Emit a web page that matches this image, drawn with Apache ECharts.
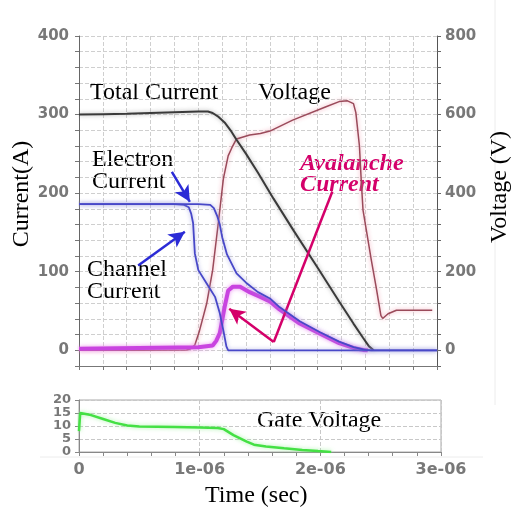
<!DOCTYPE html>
<html>
<head>
<meta charset="utf-8">
<script src="https://cdn.jsdelivr.net/npm/echarts@6/dist/echarts.min.js"></script>
<style>
  html, body { margin: 0; padding: 0; background: #fff; }
  #chart { width: 511px; height: 513px; }
</style>
</head>
<body>
<div id="chart"></div>
<script>
// Switching transient; time is given in microseconds, labelled as "Ne-06" seconds.
const totalCurrent = [
  [0, 300], [0.2, 300.5], [0.4, 301], [0.6, 302], [0.8, 303], [1.0, 304], [1.08, 304],
  [1.12, 302], [1.17, 297], [1.22, 290], [1.27, 280], [1.32, 268], [1.4, 250], [1.5, 226],
  [1.63, 193], [1.8, 152], [2.0, 105], [2.18, 62], [2.3, 34], [2.38, 16], [2.43, 5], [2.47, 0]
];
const voltage = [
  [0, 0], [0.5, 0], [0.9, 1], [0.93, 3], [0.97, 13], [1.01, 50], [1.07, 119], [1.12, 204],
  [1.17, 331], [1.21, 437], [1.25, 495], [1.28, 515], [1.32, 538], [1.43, 548], [1.52, 552],
  [1.6, 558], [1.79, 586], [2.07, 620], [2.18, 633], [2.25, 635], [2.3, 628], [2.32, 605],
  [2.35, 520], [2.365, 433], [2.38, 357], [2.45, 229], [2.49, 161], [2.53, 88], [2.545, 81],
  [2.59, 93], [2.66, 102], [2.96, 102]
];
const electronCurrent = [
  [0, 186], [0.5, 186], [1.0, 186], [1.1, 185], [1.13, 181], [1.16, 170], [1.18, 160],
  [1.2, 144], [1.24, 122], [1.32, 98], [1.4, 86], [1.5, 74], [1.6, 66], [1.68, 55],
  [1.85, 37], [2.02, 23], [2.18, 11], [2.3, 4], [2.4, 0.5], [2.45, 0], [3.0, 0]
];
const channelCurrent = [
  [0, 186], [0.8, 186], [0.88, 185], [0.92, 182], [0.94, 174], [0.956, 162], [0.971, 123],
  [1.0, 102], [1.07, 85], [1.14, 68], [1.18, 47], [1.21, 25], [1.235, 5], [1.25, 0], [3.0, 0]
];
const avalancheCurrent = [
  [0, 2], [0.5, 3], [1.0, 4], [1.12, 6], [1.15, 12], [1.18, 22], [1.22, 55], [1.25, 76],
  [1.29, 81], [1.35, 81], [1.43, 74], [1.52, 68], [1.6, 62], [1.68, 52], [1.85, 34],
  [2.02, 21], [2.18, 9], [2.3, 3], [2.38, 0.5], [2.42, 0]
];
const gateVoltage = [
  [0, 8], [0.01, 15], [0.1, 14.2], [0.2, 12.7], [0.3, 11.2], [0.4, 10.2], [0.5, 9.8],
  [0.8, 9.6], [1.0, 9.4], [1.15, 9.2], [1.2, 8.8], [1.28, 6.5], [1.39, 4], [1.45, 2.8],
  [1.55, 2.1], [1.7, 1.4], [1.85, 0.8], [1.98, 0.35], [2.09, 0]
];
const currentTicks = [0, 100, 200, 300, 400];
const voltageTicks = [0, 200, 400, 600, 800];
const timeTicks = [0, 1, 2, 3];

// Annotation arrows, in (time, current) coordinates
const electronArrow = [[0.778, 227], [0.929, 189]];
const channelArrow = [[0.496, 108], [0.887, 151]];
const avalanchePath = [[2.123, 202], [1.632, 10.6], [1.259, 53]];

const tickFont = { color: '#787878', fontFamily: 'DejaVu Sans', fontWeight: 'bold', fontSize: 15 };
const serif = 'Liberation Serif';

const chart = echarts.init(document.getElementById('chart'), null, { renderer: 'canvas' });

function lineSeries(name, data, color, width, glow, x, y, z, extra) {
  return Object.assign({
    name, type: 'line', data, xAxisIndex: x, yAxisIndex: y, z,
    symbol: 'none', silent: true, animation: false,
    emphasis: { disabled: true },
    lineStyle: { color, width, shadowColor: glow, shadowBlur: 4 }
  }, extra || {});
}

const arrowLine = (from, to, color, arrow) => [
  { coord: from, symbol: 'none', lineStyle: { color, width: 2.5, type: 'solid' } },
  { coord: to, symbol: arrow ? 'arrow' : 'none' }
];

const option = {
  animation: false,
  backgroundColor: '#fff',
  grid: [
    { left: 79, right: 74, top: 36, bottom: 147 },
    { left: 79, right: 70, top: 400, bottom: 61, show: true, borderColor: '#aaa', borderWidth: 1 }
  ],
  xAxis: [
    {
      gridIndex: 0, type: 'value', min: 0, max: 3, interval: 0.2,
      axisLine: { show: true, onZero: false, lineStyle: { color: '#777' } },
      axisTick: { show: true, length: 4, lineStyle: { color: '#777' } },
      axisLabel: { show: false },
      splitLine: { show: true, lineStyle: { color: '#cfcfcf', type: [4, 2] } }
    },
    {
      gridIndex: 1, type: 'value', min: 0, max: 3, interval: 1,
      axisLine: { show: true, onZero: false, lineStyle: { color: '#888' } },
      axisTick: { show: true, length: 4, lineStyle: { color: '#888' } },
      minorTick: { show: true, splitNumber: 5, length: 4, lineStyle: { color: '#888' } },
      axisLabel: Object.assign({}, tickFont, {
        margin: 10, fontSize: 16,
        formatter: v => {
          const k = Math.round(v);
          if (!timeTicks.includes(k)) return '';
          return k === 0 ? '0' : k + 'e-06';
        }
      }),
      splitLine: { show: true, lineStyle: { color: '#c8c8c8', type: [4, 2] } }
    }
  ],
  yAxis: [
    {
      gridIndex: 0, type: 'value', min: -20, max: 400, interval: 20, position: 'left',
      axisLine: { show: true, onZero: false, lineStyle: { color: '#666' } },
      axisTick: { show: true, length: 4, lineStyle: { color: '#777' } },
      axisLabel: Object.assign({
        margin: 10,
        formatter: v => currentTicks.includes(Math.round(v)) ? String(Math.round(v)) : ''
      }, tickFont),
      splitLine: { show: true, lineStyle: { color: '#cfcfcf', type: [4, 2] } }
    },
    {
      gridIndex: 0, type: 'value', min: -40, max: 800, interval: 40, position: 'right',
      axisLine: { show: true, onZero: false, lineStyle: { color: '#555' } },
      axisTick: { show: true, length: 4, lineStyle: { color: '#666' } },
      axisLabel: Object.assign({
        margin: 8,
        formatter: v => voltageTicks.includes(Math.round(v)) ? String(Math.round(v)) : ''
      }, tickFont),
      splitLine: { show: false }
    },
    {
      gridIndex: 1, type: 'value', min: 0, max: 20, interval: 5,
      axisLine: { show: true, onZero: false, lineStyle: { color: '#888' } },
      axisTick: { show: true, length: 4, lineStyle: { color: '#888' } },
      axisLabel: Object.assign({}, tickFont, { fontSize: 13, margin: 8 }),
      splitLine: { show: true, lineStyle: { color: '#c8c8c8', type: [4, 2] } }
    }
  ],
  series: [
    lineSeries('Voltage', voltage, '#9a4a5a', 1.5, 'rgba(240,150,170,0.9)', 0, 1, 2),
    lineSeries('Total Current', totalCurrent, '#3a3a3a', 2, 'rgba(120,120,120,0.6)', 0, 0, 3),
    lineSeries('Avalanche Current', avalancheCurrent, '#c944e0', 4, 'rgba(235,140,240,0.9)', 0, 0, 4, {
      markLine: {
        silent: true, animation: false, symbolSize: [12, 16],
        label: { show: false }, emphasis: { disabled: true },
        data: [
          arrowLine(avalanchePath[0], avalanchePath[1], '#d4006a', false),
          arrowLine(avalanchePath[1], avalanchePath[2], '#d4006a', true)
        ]
      }
    }),
    lineSeries('Channel Current', channelCurrent, '#4848c8', 1.8, 'rgba(150,150,220,0.8)', 0, 0, 5, {
      markLine: {
        silent: true, animation: false, symbolSize: [12, 16],
        label: { show: false }, emphasis: { disabled: true },
        data: [
          arrowLine(electronArrow[0], electronArrow[1], '#2b2bd6', true),
          arrowLine(channelArrow[0], channelArrow[1], '#2b2bd6', true)
        ]
      }
    }),
    lineSeries('Electron Current', electronCurrent, '#4848c8', 1.8, 'rgba(150,150,220,0.8)', 0, 0, 6),
    lineSeries('Gate Voltage', gateVoltage, '#44e044', 2.5, 'rgba(150,240,150,0.8)', 1, 2, 3)
  ],
  graphic: [
    { type: 'line', silent: true, shape: { x1: 495, y1: 0, x2: 495, y2: 405 }, style: { stroke: '#ececec', lineWidth: 1 } },
    { type: 'line', silent: true, shape: { x1: 40, y1: 457, x2: 483, y2: 457 }, style: { stroke: '#ececec', lineWidth: 1 } },
    { type: 'text', silent: true, x: 90, y: 81, style: { text: 'Total Current', font: '24px ' + serif, fill: '#000', verticalAlign: 'top' } },
    { type: 'text', silent: true, x: 258, y: 81, style: { text: 'Voltage', font: '24px ' + serif, fill: '#000', verticalAlign: 'top' } },
    { type: 'text', silent: true, x: 92, y: 149, style: { text: 'Electron\nCurrent', font: '24px ' + serif, lineHeight: 22, fill: '#000', verticalAlign: 'top' } },
    { type: 'text', silent: true, x: 87, y: 259, style: { text: 'Channel\nCurrent', font: '24px ' + serif, lineHeight: 22, fill: '#000', verticalAlign: 'top' } },
    { type: 'text', silent: true, x: 300, y: 153, style: { text: 'Avalanche\nCurrent', font: 'italic bold 24px ' + serif, lineHeight: 21, fill: '#d4006a', verticalAlign: 'top' } },
    { type: 'text', silent: true, x: 257, y: 409, style: { text: 'Gate Voltage', font: '24px ' + serif, fill: '#000', verticalAlign: 'top' } },
    { type: 'text', silent: true, x: 205, y: 484, style: { text: 'Time (sec)', font: '24px ' + serif, fill: '#000', verticalAlign: 'top' } },
    { type: 'text', silent: true, x: 22, y: 194, rotation: Math.PI / 2, style: { text: 'Current(A)', font: '24px ' + serif, fill: '#000', align: 'center', verticalAlign: 'middle' } },
    { type: 'text', silent: true, x: 500, y: 187, rotation: Math.PI / 2, style: { text: 'Voltage (V)', font: '24px ' + serif, fill: '#000', align: 'center', verticalAlign: 'middle' } }
  ]
};

chart.setOption(option);
</script>
</body>
</html>
